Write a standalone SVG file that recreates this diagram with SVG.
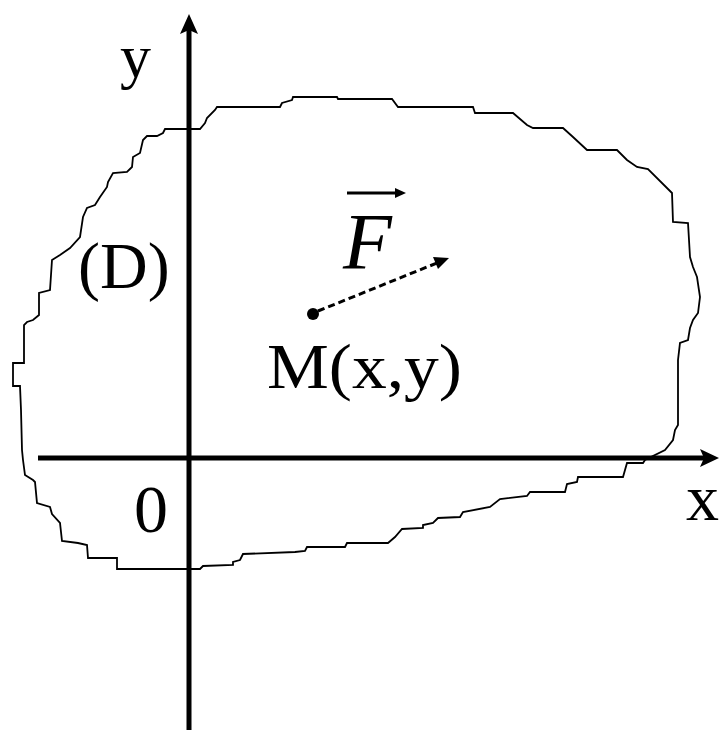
<svg xmlns="http://www.w3.org/2000/svg" width="719" height="730" viewBox="0 0 719 730">
<style>
  .lbl { font-family: "Liberation Serif", "Times New Roman", serif; fill: #000; }
  .axis { stroke: #000; stroke-width: 5; fill: none; }
  .region { stroke: #000; stroke-width: 1.8; fill: none; stroke-linejoin: miter; }
</style>
<defs>
  <marker id="ah" viewBox="0 0 10 10" refX="9" refY="5" markerWidth="4" markerHeight="4" orient="auto" markerUnits="strokeWidth">
    <path d="M0,0 L10,5 L0,10 Z" fill="#000"/>
  </marker>
</defs>
<rect width="719" height="730" fill="#fff"/>

<g id="region-D">
  <polygon class="region" points="13,386 13,363 24,363 24,325 27,322 33,320 39,315 39,293 50,290 52,260 60,255 70,248 80,237 83,217 87,208 95,205 100,197 107,187 108,182 113,173 127,172 132,167 133,157 140,153 143,140 147,136 157,136 163,133 165,129 200,129 205,123 207,118 215,110 217,107 280,107 282,103 292,100 293,97 337,97 338,99 392,99 398,107 473,107 475,113 513,113 527,125 533,128 563,128 573,137 587,150 617,150 627,160 637,167 648,169 672,193 673,222 688,223 690,257 693,267 697,277 700,297 698,313 693,320 690,328 688,340 680,343 678,360 678,425 675,430 673,440 665,450 645,460 643,463 627,463 623,477 578,477 577,482 567,484 565,492 530,492 527,496 500,499 490,507 463,512 460,517 438,518 433,523 423,525 423,528 402,529 395,537 388,543 347,543 345,547 307,547 305,551 295,552 243,554 240,560 233,562 233,565 203,566 200,569 117,569 117,558 88,558 87,545 78,543 62,541 60,523 52,514 50,507 37,503 35,482 33,480 25,475 23,460 22,450 21,410 20,386"/>
</g>

<g id="axes">
  <line class="axis" x1="189" y1="730" x2="189" y2="28"/>
  <polygon points="189,14 198,34 189,30 180,34" fill="#000"/>
  <line class="axis" x1="38" y1="458" x2="705" y2="458"/>
  <polygon points="719,458 700,467 704,458 700,449" fill="#000"/>
</g>

<g id="connectors">
  <line x1="318" y1="311" x2="437" y2="263" stroke="#000" stroke-width="3" stroke-dasharray="7 4"/>
  <polygon points="449,258 433,257 438,269" fill="#000"/>
</g>

<g id="point-M">
  <circle cx="313" cy="314" r="6" fill="#000"/>
  <text class="lbl" x="267" y="388" font-size="64" textLength="195" lengthAdjust="spacingAndGlyphs">M(x,y)</text>
</g>

<g id="vector-F">
  <line x1="347" y1="193" x2="397" y2="193" stroke="#000" stroke-width="3"/>
  <polygon points="406,193 395,188 395,198" fill="#000"/>
  <text class="lbl" x="343" y="269" font-size="80" font-style="italic">F</text>
</g>

<g id="labels">
  <text class="lbl" x="120" y="77" font-size="62">y</text>
  <text class="lbl" x="78" y="288" font-size="66">(D)</text>
  <text class="lbl" x="134" y="532" font-size="68">0</text>
  <text class="lbl" x="686" y="520" font-size="66">x</text>
</g>
</svg>
